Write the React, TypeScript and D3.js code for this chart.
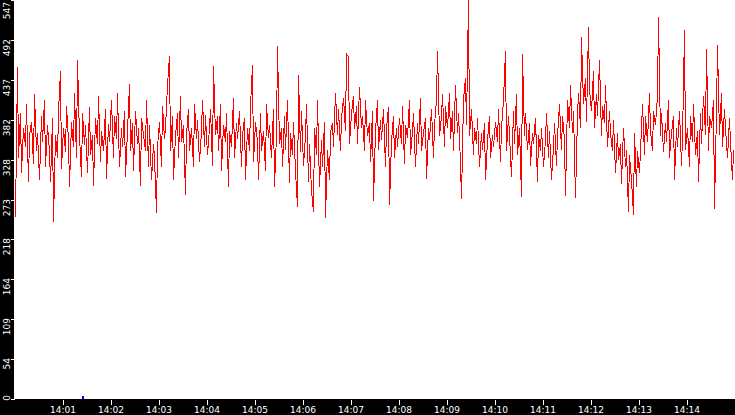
import React, { useEffect, useRef } from 'react';
import * as d3 from 'd3';

// one sample every 2 seconds, starting 14:00:00
const startTime = '2024-01-01T14:00:00';
const sampleStepSec = 2;

const samples: number[] = [
  250, 455, 330, 392, 310, 372, 345, 405, 298, 360, 380, 322, 418, 340, 365, 300, 388, 352, 410, 318, 375, 340, 298, 385, 243, 362, 330, 395, 450, 315,
  372, 338, 402, 355, 290, 380, 345, 420, 330, 465, 360, 305, 392, 348, 375, 310, 400, 335, 362, 292, 385, 350, 415, 325, 368, 340, 398, 302, 377, 352,
  410, 330, 388, 356, 420, 318, 372, 345, 395, 305, 368, 432, 340, 378, 312, 395, 350, 372, 292, 385, 362, 340, 410, 318, 375, 300, 350, 330, 255, 345,
  380, 318, 402, 356, 372, 430, 470, 340, 388, 300, 360, 392, 330, 415, 352, 375, 280, 362, 398, 340, 372, 318, 405, 356, 383, 325, 368, 410, 345, 390,
  335, 372, 398, 320, 456, 362, 388, 340, 405, 312, 375, 352, 392, 290, 368, 345, 412, 330, 378, 356, 395, 318, 360, 385, 300, 372, 340, 402, 458, 325,
  380, 352, 300, 392, 340, 368, 312, 405, 358, 375, 330, 398, 290, 362, 484, 350, 372, 318, 388, 342, 410, 296, 365, 335, 380, 312, 263, 444, 338, 395,
  320, 362, 405, 298, 350, 285, 256, 372, 335, 410, 290, 355, 318, 380, 248, 342, 300, 365, 378, 345, 420, 362, 398, 340, 385, 412, 368, 473, 469, 350,
  392, 415, 370, 402, 350, 428, 372, 388, 340, 410, 360, 378, 325, 395, 271, 368, 410, 342, 382, 355, 398, 318, 372, 400, 266, 352, 388, 330, 372, 345,
  385, 350, 402, 322, 375, 358, 410, 335, 368, 392, 318, 378, 350, 412, 340, 365, 385, 302, 372, 355, 398, 330, 375, 410, 477, 360, 388, 418, 345, 402,
  372, 420, 356, 395, 340, 430, 365, 392, 322, 274, 410, 440, 375, 547, 360, 398, 335, 372, 350, 385, 318, 365, 342, 378, 300, 355, 388, 330, 362, 345,
  380, 352, 398, 325, 372, 410, 477, 340, 388, 362, 305, 395, 350, 418, 335, 372, 277, 473, 360, 392, 342, 378, 320, 365, 350, 385, 298, 362, 340, 372,
  318, 355, 392, 330, 368, 300, 345, 378, 320, 360, 405, 342, 388, 355, 278, 410, 372, 430, 365, 395, 276, 388, 420, 372, 496, 405, 440, 380, 510, 425,
  395, 450, 372, 418, 388, 465, 360, 402, 378, 430, 345, 395, 365, 340, 382, 310, 365, 328, 350, 295, 372, 318, 342, 256, 335, 300, 252, 365, 290, 340,
  310, 372, 405, 335, 388, 352, 420, 368, 340, 395, 375, 415, 524, 360, 392, 338, 378, 352, 410, 330, 365, 388, 300, 372, 345, 395, 320, 358, 506, 342,
  372, 318, 388, 352, 405, 335, 368, 298, 392, 350, 415, 362, 480, 340, 388, 372, 410, 260, 395, 485, 362, 420, 345, 398, 372, 330, 385, 352, 300, 342,
];

const yMax = 547;
const windowMinutes = 15;
// small blue event marker near the bottom
const eventOffsetsSec = [84];

export default function App() {
  const svgRef = useRef<SVGSVGElement>(null);

  useEffect(() => {
    if (!svgRef.current) return;
    const svg = d3.select(svgRef.current);
    svg.selectAll('*').remove();

    const W = 735;
    const H = 415;
    const left = 15;
    const bottom = 399;
    const font = '"DejaVu Sans", sans-serif';

    const t0 = new Date(startTime);
    const t1 = d3.timeMinute.offset(t0, windowMinutes);

    const x = d3.scaleTime().domain([t0, t1]).range([left, W]);
    const y = d3.scaleLinear().domain([0, yMax]).range([bottom, 0]);

    svg.append('rect').attr('width', W).attr('height', H).attr('fill', '#fff');

    const data = samples.map((v, i) => ({ t: d3.timeSecond.offset(t0, i * sampleStepSec), v }));

    const line = d3.line<{ t: Date; v: number }>()
      .x(d => Math.round(x(d.t)) + 0.5)
      .y(d => Math.round(y(d.v)));

    svg.append('path')
      .datum(data)
      .attr('fill', 'none')
      .attr('stroke', '#ff0000')
      .attr('stroke-width', 1)
      .attr('shape-rendering', 'crispEdges')
      .attr('d', line);

    // event markers
    eventOffsetsSec.forEach(s => {
      const ex = Math.round(x(d3.timeSecond.offset(t0, s)));
      svg.append('rect')
        .attr('x', ex).attr('y', bottom - 3).attr('width', 2).attr('height', 3)
        .attr('fill', '#0000ff');
    });

    // axis strips
    svg.append('rect').attr('x', 0).attr('y', 0).attr('width', left - 1).attr('height', H).attr('fill', '#000');
    svg.append('rect').attr('x', 0).attr('y', bottom).attr('width', W).attr('height', H - bottom).attr('fill', '#000');

    // left axis
    const yTicks = d3.range(0, 11).map(i => (yMax * i) / 10);
    yTicks.forEach(v => {
      const ty = Math.round(y(v));
      svg.append('line')
        .attr('x1', 11).attr('x2', left).attr('y1', ty + 0.5).attr('y2', ty + 0.5)
        .attr('stroke', '#fff').attr('shape-rendering', 'crispEdges');
      const ly = Math.min(Math.max(ty - 1, 2), bottom - 4);
      svg.append('text')
        .attr('transform', `translate(10,${ly}) rotate(-90)`)
        .attr('text-anchor', 'end')
        .attr('fill', '#fff')
        .style('font-family', font)
        .style('font-size', '9px')
        .text(Math.floor(v));
    });

    // bottom axis
    const xTicks = d3.timeMinute.range(d3.timeMinute.offset(t0, 1), t1);
    const fmt = d3.timeFormat('%H:%M');
    xTicks.forEach(t => {
      const tx = Math.round(x(t));
      svg.append('line')
        .attr('x1', tx + 0.5).attr('x2', tx + 0.5).attr('y1', bottom + 1).attr('y2', bottom + 6)
        .attr('stroke', '#fff').attr('shape-rendering', 'crispEdges');
      svg.append('text')
        .attr('x', tx)
        .attr('y', 413)
        .attr('text-anchor', 'middle')
        .attr('fill', '#fff')
        .style('font-family', font)
        .style('font-size', '9px')
        .text(fmt(t));
    });
  }, []);

  return (
    <div style={{ position: 'fixed', left: 0, top: 0 }}>
      <svg ref={svgRef} width={735} height={415} style={{ display: 'block' }} />
    </div>
  );
}
